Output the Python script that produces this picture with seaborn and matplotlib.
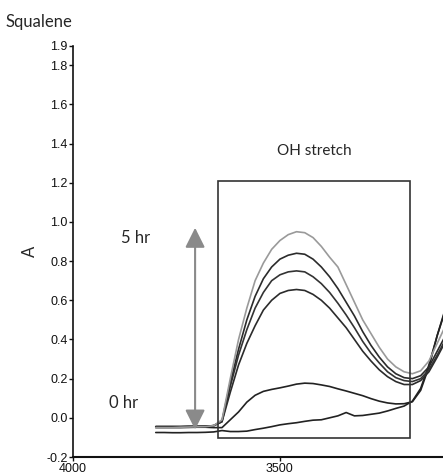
import numpy as np
import pandas as pd
import matplotlib
matplotlib.use("Agg")
import matplotlib.pyplot as plt
from matplotlib.patches import Rectangle
import seaborn as sns

# wavenumbers (cm-1), 3800 -> 3100
wavenumber = [3800, 3780, 3760, 3740, 3720, 3700, 3680, 3660, 3640, 3620,
              3600, 3580, 3560, 3540, 3520, 3500, 3480, 3460, 3440, 3420,
              3400, 3380, 3360, 3340, 3320, 3300, 3280, 3260, 3240, 3220,
              3200, 3180, 3160, 3140, 3120, 3100]

abs_0hr = [-0.075, -0.075, -0.076, -0.076, -0.075, -0.075, -0.074, -0.072, -0.065, -0.07,
           -0.07, -0.068, -0.06, -0.053, -0.045, -0.036, -0.03, -0.025, -0.018, -0.012,
           -0.01, 0.0, 0.01, 0.027, 0.01, 0.012, 0.018, 0.024, 0.035, 0.048,
           0.06, 0.085, 0.15, 0.27, 0.42, 0.55]
abs_1hr = [-0.05, -0.05, -0.05, -0.05, -0.049, -0.048, -0.048, -0.05, -0.05, -0.01,
           0.03, 0.08, 0.115, 0.135, 0.145, 0.153, 0.162, 0.172, 0.177, 0.175,
           0.168, 0.16, 0.148, 0.137, 0.125, 0.113, 0.098, 0.085, 0.076, 0.071,
           0.072, 0.082, 0.14, 0.26, 0.42, 0.56]
abs_2hr = [-0.045, -0.045, -0.045, -0.045, -0.044, -0.044, -0.043, -0.04, -0.02, 0.13,
           0.27, 0.38, 0.47, 0.55, 0.60, 0.635, 0.65, 0.655, 0.65, 0.63,
           0.60, 0.56, 0.51, 0.46, 0.40, 0.34, 0.29, 0.245, 0.21, 0.185,
           0.17, 0.17, 0.19, 0.235, 0.31, 0.39]
abs_3hr = [-0.045, -0.045, -0.045, -0.045, -0.044, -0.044, -0.043, -0.04, -0.02, 0.16,
           0.32, 0.45, 0.56, 0.64, 0.70, 0.73, 0.745, 0.75, 0.745, 0.72,
           0.685, 0.64, 0.585, 0.525, 0.46, 0.39, 0.33, 0.28, 0.235, 0.205,
           0.19, 0.185, 0.20, 0.245, 0.32, 0.40]
abs_4hr = [-0.045, -0.045, -0.045, -0.045, -0.044, -0.044, -0.043, -0.04, -0.015, 0.18,
           0.35, 0.50, 0.62, 0.71, 0.77, 0.81, 0.83, 0.84, 0.835, 0.81,
           0.77, 0.72, 0.66, 0.59, 0.52, 0.44, 0.37, 0.31, 0.26, 0.225,
           0.205, 0.20, 0.215, 0.26, 0.34, 0.42]
abs_5hr = [-0.05, -0.05, -0.05, -0.048, -0.047, -0.046, -0.045, -0.04, -0.01, 0.20,
           0.40, 0.56, 0.70, 0.79, 0.86, 0.905, 0.935, 0.95, 0.945, 0.92,
           0.875, 0.82, 0.77, 0.68, 0.59, 0.50, 0.43, 0.36, 0.30, 0.26,
           0.235, 0.225, 0.24, 0.29, 0.38, 0.47]

series = {"0 hr": abs_0hr, "1 hr": abs_1hr, "2 hr": abs_2hr,
          "3 hr": abs_3hr, "4 hr": abs_4hr, "5 hr": abs_5hr}
df = pd.concat([pd.DataFrame({"wavenumber": wavenumber, "A": v, "time": k})
                for k, v in series.items()], ignore_index=True)

sns.set_style("white")
plt.rcParams["font.family"] = ["Liberation Sans", "DejaVu Sans"]

fig = plt.figure(figsize=(4.43, 4.74), dpi=100)
ax = fig.add_axes([73 / 443, 17 / 474, 1 - 73 / 443, 411.4 / 474])

palette = {"0 hr": "#222222", "1 hr": "#222222", "2 hr": "#2b2b2b",
           "3 hr": "#333333", "4 hr": "#2b2b2b", "5 hr": "#9a9a9a"}
sns.lineplot(data=df, x="wavenumber", y="A", hue="time", palette=palette,
             estimator=None, sort=False, linewidth=1.2, legend=False, ax=ax)

ax.set_xlim(4000, 3106)
ax.set_ylim(-0.2, 1.9)
ax.set_xticks([4000, 3500])
ax.set_yticks([1.9, 1.8, 1.6, 1.4, 1.2, 1.0, 0.8, 0.6, 0.4, 0.2, 0.0, -0.2])
ax.set_yticklabels(["1.9", "1.8", "1.6", "1.4", "1.2", "1.0", "0.8", "0.6",
                    "0.4", "0.2", "0.0", "-0.2"])
ax.tick_params(axis="both", direction="out", length=3, width=1, pad=1,
               labelsize=9, colors="#111111", left=True, bottom=True)
for s in ["top", "right"]:
    ax.spines[s].set_visible(False)
ax.spines["left"].set_linewidth(1.2)
ax.spines["bottom"].set_linewidth(1.5)
ax.spines["left"].set_color("#111111")
ax.spines["bottom"].set_color("#111111")
ax.set_xlabel("")
ax.set_ylabel("A", fontsize=12, family=["Lato", "DejaVu Sans"], labelpad=6)

# OH stretch box
ax.add_patch(Rectangle((3186, -0.105), 464, 1.315, fill=False,
                       edgecolor="#333333", linewidth=1.2, zorder=3))
ax.text(3418, 1.36, "OH stretch", ha="center", va="center", fontsize=11,
        family=["Lato", "DejaVu Sans"])

# time arrow
ax.annotate("", xy=(3705, 0.97), xytext=(3705, -0.06),
            arrowprops=dict(arrowstyle="<|-|>,head_length=1.0,head_width=0.5",
                            mutation_scale=12, color="#8a8a8a", lw=1.5,
                            shrinkA=0, shrinkB=0))
ax.text(3850, 0.92, "5 hr", ha="center", va="center", fontsize=12,
        family=["Lato", "DejaVu Sans"])
ax.text(3879, 0.077, "0 hr", ha="center", va="center", fontsize=12,
        family=["Lato", "DejaVu Sans"])

fig.text(5 / 443, 1 - 22 / 474, "Squalene", ha="left", va="center", fontsize=12,
         family=["Lato", "DejaVu Sans"])

fig.savefig("out.png", dpi=100)
